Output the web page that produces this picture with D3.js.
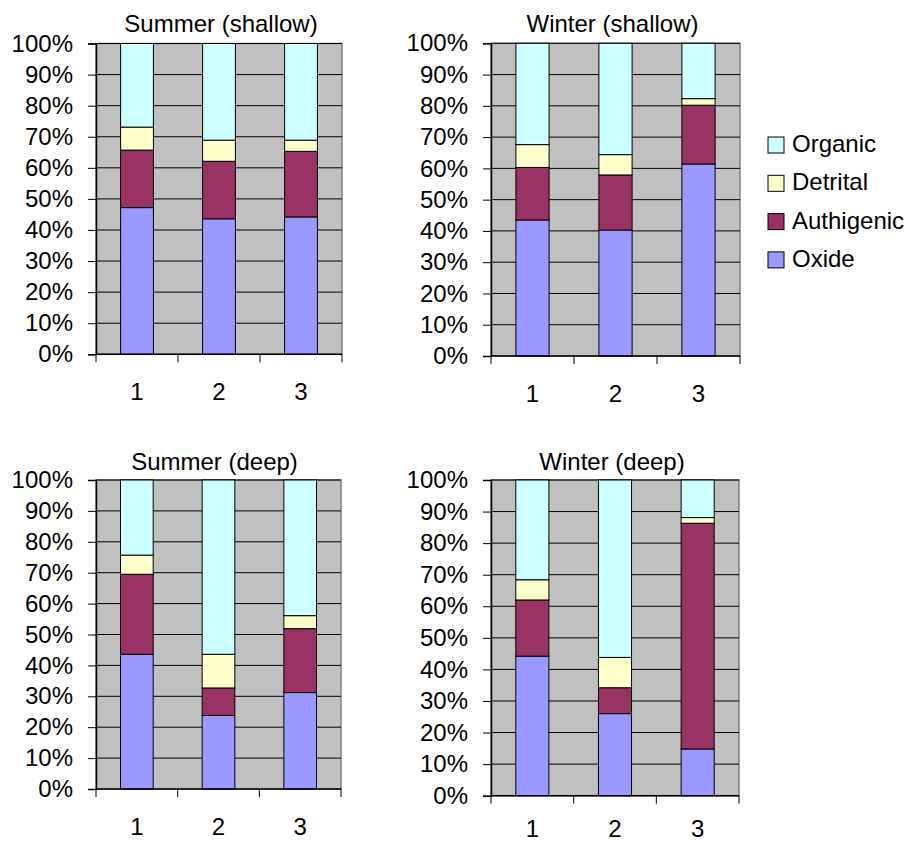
<!DOCTYPE html>
<html>
<head>
<meta charset="utf-8">
<script src="https://cdn.jsdelivr.net/npm/d3@7"></script>
<style>
  html, body { margin: 0; padding: 0; background: #ffffff; }
  svg { display: block; font-family: "Liberation Sans", Arial, sans-serif; }
</style>
</head>
<body>
<svg id="chart" width="910" height="841"></svg>
<script>
// Sites along the x axis
const categories = ["1", "2", "3"];
// Fractions stacked bottom to top
const seriesNames = ["Oxide", "Authigenic", "Detrital", "Organic"];
const seriesColors = ["#9999FF", "#993366", "#FFFFCC", "#CCFFFF"];
const yTicks = [0, 0.1, 0.2, 0.3, 0.4, 0.5, 0.6, 0.7, 0.8, 0.9, 1.0];

// Percent of each fraction per site: [oxide, authigenic, detrital, organic]
const summerShallow = [
  [47.2, 18.5, 7.4, 26.9],
  [43.6, 18.5, 6.8, 31.1],
  [44.2, 21.1, 3.6, 31.1]
];
const winterShallow = [
  [43.5, 16.8, 7.3, 32.4],
  [40.3, 17.6, 6.5, 35.6],
  [61.4, 18.8, 2.1, 17.7]
];
const summerDeep = [
  [43.6, 25.9, 6.2, 24.3],
  [23.8, 8.9, 10.9, 56.4],
  [31.2, 20.7, 4.2, 43.9]
];
const winterDeep = [
  [44.2, 17.8, 6.4, 31.6],
  [26.0, 8.2, 9.6, 56.2],
  [14.8, 71.5, 1.8, 11.9]
];

const titles = ["Summer (shallow)", "Winter (shallow)", "Summer (deep)", "Winter (deep)"];
const panelData = [summerShallow, winterShallow, summerDeep, winterDeep];

// Plot-area boxes for the four small charts
const boxes = [
  { left: 96,  right: 342, top: 43.5, bottom: 354.3, titleDx: 2,  titleY: 32,  labelDy: 46 },
  { left: 491, right: 740, top: 43.3, bottom: 356,   titleDx: -3, titleY: 32,  labelDy: 46 },
  { left: 96,  right: 341, top: 480,  bottom: 789,   titleDx: -4, titleY: 470, labelDy: 46 },
  { left: 491, right: 739, top: 480,  bottom: 795.7, titleDx: -3, titleY: 470, labelDy: 41 }
];

const FONT = 24;
const svg = d3.select("#chart");

panelData.forEach((rows, pi) => {
  const b = boxes[pi];
  const g = svg.append("g");

  const x = d3.scaleBand()
    .domain(categories)
    .range([b.left, b.right])
    .paddingInner(0.6)
    .paddingOuter(0.3);
  const y = d3.scaleLinear().domain([0, 1]).range([b.bottom, b.top]);

  // Plot area background with grey border
  g.append("rect")
    .attr("x", b.left).attr("y", b.top)
    .attr("width", b.right - b.left).attr("height", b.bottom - b.top)
    .attr("fill", "#C0C0C0")
    .attr("stroke", "#808080").attr("stroke-width", 1.5);

  // Horizontal gridlines
  g.append("g").selectAll("line")
    .data(yTicks.slice(1))
    .join("line")
    .attr("x1", b.left).attr("x2", b.right)
    .attr("y1", d => y(d)).attr("y2", d => y(d))
    .attr("stroke", "#000").attr("stroke-width", 1);

  // Stacked bars
  const table = rows.map((r, i) => {
    const o = { cat: categories[i] };
    seriesNames.forEach((s, k) => { o[s] = r[k] / 100; });
    return o;
  });
  const stacked = d3.stack().keys(seriesNames)(table);
  g.append("g").selectAll("g")
    .data(stacked)
    .join("g")
    .attr("fill", (d, k) => seriesColors[k])
    .selectAll("rect")
    .data(d => d)
    .join("rect")
    .attr("x", d => x(d.data.cat))
    .attr("width", x.bandwidth())
    .attr("y", d => y(d[1]))
    .attr("height", d => y(d[0]) - y(d[1]))
    .attr("stroke", "#000").attr("stroke-width", 1);

  // Y axis
  const yAxis = d3.axisLeft(y)
    .tickValues(yTicks)
    .tickFormat(d3.format(".0%"))
    .tickSize(8)
    .tickPadding(15);
  const ya = g.append("g")
    .attr("transform", `translate(${b.left},0)`)
    .call(yAxis);
  ya.select(".domain").attr("stroke", "#000").attr("stroke-width", 1.5);
  ya.selectAll(".tick line").attr("stroke", "#000");
  ya.selectAll(".tick text")
    .attr("font-size", FONT).attr("fill", "#000")
    .attr("font-family", "'Liberation Sans', Arial, sans-serif");

  // X axis: ticks between categories, labels centred under bars
  const step = x.step();
  const bounds = d3.range(categories.length + 1).map(i => b.left + i * step);
  const xa = g.append("g");
  xa.append("line")
    .attr("x1", b.left).attr("x2", b.right)
    .attr("y1", b.bottom).attr("y2", b.bottom)
    .attr("stroke", "#000").attr("stroke-width", 1.5);
  xa.selectAll("line.tk")
    .data(bounds)
    .join("line")
    .attr("class", "tk")
    .attr("x1", d => d).attr("x2", d => d)
    .attr("y1", b.bottom).attr("y2", b.bottom + 8)
    .attr("stroke", "#000");
  xa.selectAll("text")
    .data(categories)
    .join("text")
    .attr("x", d => x(d) + x.bandwidth() / 2)
    .attr("y", b.bottom + b.labelDy)
    .attr("text-anchor", "middle")
    .attr("font-size", FONT)
    .attr("fill", "#000")
    .text(d => d);

  // Title
  g.append("text")
    .attr("x", (b.left + b.right) / 2 + b.titleDx)
    .attr("y", b.titleY)
    .attr("text-anchor", "middle")
    .attr("font-size", FONT)
    .attr("fill", "#000")
    .text(titles[pi]);
});

// Legend, top entry is the top of the stack
const legendOrder = seriesNames.map((s, k) => ({ name: s, color: seriesColors[k] })).reverse();
const legend = svg.append("g");
const lg = legend.selectAll("g")
  .data(legendOrder)
  .join("g")
  .attr("transform", (d, i) => `translate(768,${137 + i * 38.3})`);
lg.append("rect")
  .attr("width", 16).attr("height", 16)
  .attr("fill", d => d.color)
  .attr("stroke", "#000").attr("stroke-width", 1);
lg.append("text")
  .attr("x", 24).attr("y", 15)
  .attr("font-size", FONT)
  .attr("fill", "#000")
  .text(d => d.name);
</script>
</body>
</html>
